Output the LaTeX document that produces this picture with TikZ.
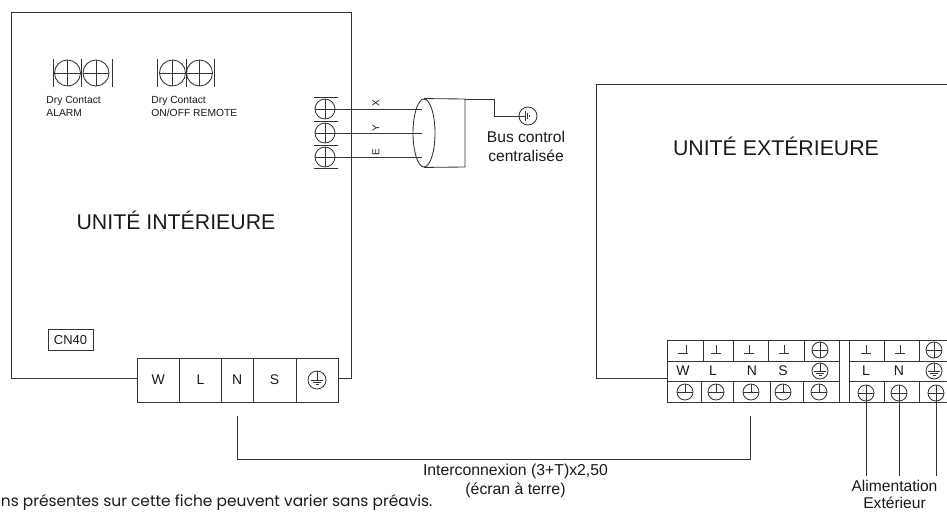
\documentclass[tikz,border=0pt]{standalone}
\usepackage{fontspec}
\usepackage{tikz}
\usetikzlibrary{shapes.geometric}
\setmainfont{Liberation Sans}
\newfontfamily\notefont{Poppins}
\definecolor{linegray}{gray}{0.2}
\def\pb{path picture bounding box}
\tikzset{
    every node/.style={font=\fontsize{14}{18}\selectfont, text=black!90},
    lbl/.style={align=center, inner sep=0pt},
    small/.style={font=\fontsize{10.3}{13}\selectfont, align=left, anchor=west, inner sep=0pt},
    wirelbl/.style={font=\fontsize{10}{11}\selectfont, rotate=90, inner sep=0pt},
    cell/.style={draw, rectangle, inner sep=0pt, minimum height=44},
    termcross/.style={draw, circle, inner sep=0pt, minimum size=#1, path picture={
        \draw (\pb.north) -- (\pb.south) (\pb.west) -- (\pb.east);}},
    termhalf/.style={draw, circle, inner sep=0pt, minimum size=#1, path picture={
        \draw (\pb.north) -- (\pb.center) (\pb.west) -- (\pb.east);}},
    earth/.style={draw, circle, inner sep=0pt, minimum size=#1, path picture={
        \draw (\pb.center) +(0,-9) -- +(0,0) +(-6,0) -- +(6,0) +(-4,2.5) -- +(4,2.5) +(-1.5,4.5) -- +(1.5,4.5);}},
    busearth/.style={draw, circle, inner sep=0pt, minimum size=#1, path picture={
        \draw (\pb.center) +(-9,0) -- +(-3,0) +(-3,-5) -- +(-3,5) +(-1,-3) -- +(-1,3) +(1,-1) -- +(1,1);}},
    perpmark/.style={inner sep=0pt, minimum size=16, path picture={
        \draw (\pb.center) +(-5,3) -- +(5,3) +(#1,-5) -- +(#1,3);}},
    perpmark/.default=0
}

\begin{document}
\begin{tikzpicture}[x=1pt, y=-1pt, line width=0.85pt, draw=linegray]
    \useasboundingbox (0,0) rectangle (947,511);

    % indoor unit
    \node[cell, minimum width=42.5] (inW) at (158.25,380) {W};
    \node[cell, minimum width=42] (inL) at (200.5,380) {L};
    \node[cell, minimum width=31.5] (inN) at (237.25,380) {N};
    \node[cell, minimum width=43] (inS) at (274.5,380) {S};
    \node[cell, minimum width=42] (inE) at (317,380) {};
    \node[earth=18] (inEarth) at (inE.center) {};
    \coordinate (inA) at (137,378);
    \coordinate (inB) at (338,378);
    \draw (inA) -- (11,378) -- (11,12) -- (351,12) -- (351,378) -- (inB);
    \node[lbl, font=\fontsize{21.3}{25}\selectfont] (inTitle) at (176,220) {UNITÉ INTÉRIEURE};
    \node[draw, rectangle, inner sep=0pt, minimum width=45, minimum height=21, font=\fontsize{13}{16}\selectfont] (cn) at (70.5,340) {CN40};

    % dry contacts
    \node[termcross=26] (a1) at (67.5,73) {};
    \node[termcross=26] (a2) at (96,73) {};
    \node[termcross=26] (r1) at (172.5,73) {};
    \node[termcross=26] (r2) at (199.5,73) {};
    \draw (53,59) -- (53,87) (81.5,59) -- (81.5,87) (112,59) -- (112,87);
    \draw (157.5,59) -- (157.5,87) (186,59) -- (186,87) (214,59) -- (214,87);
    \node[small] (alarm) at (46,106.5) {Dry Contact\\ALARM};
    \node[small] (remote) at (151,106.5) {Dry Contact\\ON/OFF REMOTE};

    % bus
    \node[termcross=20] (tx) at (325,109) {};
    \node[termcross=20] (ty) at (325,133) {};
    \node[termcross=20] (te) at (325,157) {};
    \draw (314,97) -- (338,97) (314,121) -- (338,121) (314,145) -- (338,145) (314,168) -- (338,168);
    \node[draw, ellipse, inner sep=0pt, minimum width=22, minimum height=68] (cable) at (424,133) {};
    \coordinate (ex) at (422,109);
    \coordinate (ey) at (422,133);
    \coordinate (ee) at (422,157);
    \coordinate (shA) at (465,99);
    \coordinate (shB) at (465,167);
    \node[wirelbl] (lx) at (376,103) {X};
    \node[wirelbl] (ly) at (376,128) {Y};
    \node[wirelbl] (le) at (376,152) {E};
    \draw (tx.center) -- (ex);
    \draw (ty.center) -- (ey);
    \draw (te.center) -- (ee);
    \node[busearth=18] (gnd) at (528,116) {};
    \draw (cable.north) -- (shA) -- (shB) -- (cable.south);
    \draw (shA) -- (494,99) -- (494,116) -- (gnd.west);
    \node[lbl, font=\fontsize{15.6}{19}\selectfont] (bus) at (526,146) {Bus control\\centralisée};

    % outdoor unit
    \coordinate (outA) at (667,378);
    \coordinate (outB) at (947,84);
    \draw (outA) -- (596,378) -- (596,84) -- (outB);
    \node[lbl, font=\fontsize{21.3}{25}\selectfont] (outTitle) at (776,146) {UNITÉ EXTÉRIEURE};

    % outdoor terminals
    \draw (667,340) rectangle (839,402);
    \draw (849,340) rectangle (950,402);
    \draw (667,361) -- (839,361) (667,381) -- (839,381) (849,361) -- (950,361) (849,381) -- (950,381);
    \draw (839,340) -- (849,340) (839,402) -- (849,402);
    \draw (703,340) -- (703,361) (733,340) -- (733,361) (768,340) -- (768,361) (804,340) -- (804,361);
    \draw (884,340) -- (884,361) (919,340) -- (919,361);
    \draw (701,381) -- (701,402) (733,381) -- (733,402) (770,381) -- (770,402) (803,381) -- (803,402);
    \draw (884,381) -- (884,402) (919,381) -- (919,402);

    \node[perpmark=3] (m1) at (683,350) {};
    \node[perpmark] (m2) at (716,350) {};
    \node[perpmark] (m3) at (749,350) {};
    \node[perpmark] (m4) at (784,350) {};
    \node[termcross=16] (m5) at (820,350) {};
    \node[perpmark] (m6) at (866,350) {};
    \node[perpmark] (m7) at (900,350) {};
    \node[termcross=16] (m8) at (934,350) {};

    \node[lbl] (oW) at (683,371) {W};
    \node[lbl] (oL) at (713,371) {L};
    \node[lbl] (oN) at (752,371) {N};
    \node[lbl] (oS) at (783,371) {S};
    \node[earth=16] (oE) at (820,371) {};
    \node[lbl] (pL) at (866,371) {L};
    \node[lbl] (pN) at (899,371) {N};
    \node[earth=16] (pE) at (934,371) {};

    \node[termhalf=16] (b1) at (685,392) {};
    \node[termhalf=16] (b2) at (716,392) {};
    \node[termhalf=16] (b3) at (751,392) {};
    \node[termhalf=16] (b4) at (783,392) {};
    \node[termhalf=16] (b5) at (819,392) {};
    \node[termcross=16] (c1) at (866,393) {};
    \node[termcross=16] (c2) at (899,393) {};
    \node[termcross=16] (c3) at (936,393) {};

    % power supply
    \coordinate (f1) at (866,476);
    \coordinate (f2) at (899,476);
    \coordinate (f3) at (936,476);
    \draw (c1.center) -- (f1);
    \draw (c2.center) -- (f2);
    \draw (c3.center) -- (f3);
    \node[lbl, font=\fontsize{15.6}{17.5}\selectfont] (power) at (894.5,494.5) {Alimentation\\Extérieur};

    % interconnection
    \coordinate (linkA) at (237,416);
    \coordinate (linkB) at (750.5,416);
    \draw (linkA) -- (237,459) -- (750.5,459) -- (linkB);
    \node[lbl, font=\fontsize{15.8}{19}\selectfont] (link) at (515.5,481) {Interconnexion (3+T)x2,50\\(écran à terre)};

    \node[lbl, anchor=base west, font=\notefont\fontsize{15.4}{16}\selectfont] (note) at (0.5,506.5) {ns présentes sur cette fiche peuvent varier sans préavis.};
\end{tikzpicture}
\end{document}
